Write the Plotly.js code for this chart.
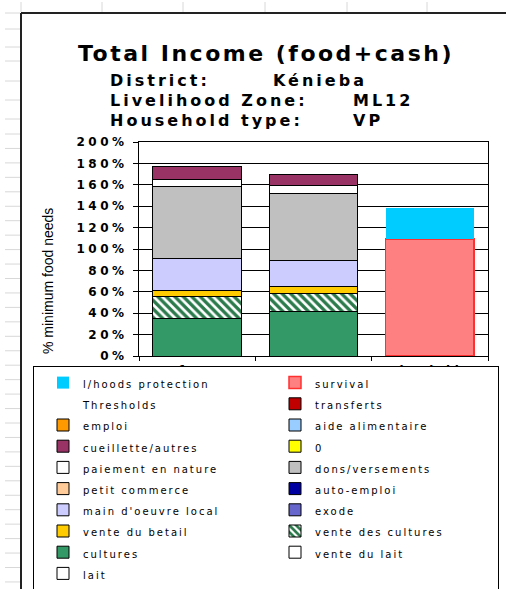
<!DOCTYPE html>
<html>
<head>
<meta charset="utf-8">
<script src="https://cdn.plot.ly/plotly-3.0.1.min.js"></script>
<style>
  html, body { margin: 0; padding: 0; background: #ffffff; }
  #chart { width: 506px; height: 589px; }
</style>
</head>
<body>
<div id="chart"></div>
<script>
// ---------- data (values in % of minimum food needs) ----------
const categories = ["reference", "current", "thresholds"];

const lait              = [0, 0, null];
const venteDuLait       = [0, 0, null];
const cultures          = [34.6, 41.4, null];
const venteDesCultures  = [20.8, 16.8, null];
const venteDuBetail     = [5.6, 6.6, null];
const exode             = [0, 0, null];
const mainDoeuvreLocal  = [30.3, 24.9, null];
const autoEmploi        = [0, 0, null];
const petitCommerce     = [0, 0, null];
const donsVersements    = [66.9, 62.3, null];
const paiementEnNature  = [7.2, 7.2, null];
const zeroSeries        = [0, 0, null];
const cueilletteAutres  = [11.5, 10.0, null];
const aideAlimentaire   = [0, 0, null];
const emploi            = [0, 0, null];
const transferts        = [0, 0, null];
const thresholdsBlank   = [null, null, null];
const survival          = [null, null, 109.3];
const lhoodsProtection  = [null, null, 29.3];

const yTickVals   = [0, 20, 40, 60, 80, 100, 120, 140, 160, 180, 200];
const yTickLabels = ["0%", "20%", "40%", "60%", "80%", "100%", "120%", "140%", "160%", "180%", "200%"];

const chartTitle = "Total Income (food+cash)";
const infoLabels = ["District:", "Livelihood Zone:", "Household type:"];
const infoValues = ["Kénieba", "ML12", "VP"];
const yTitle = "% minimum food needs";

// ---------- geometry helpers (pixel -> paper) ----------
const W = 506, H = 589;
const PL = 139, PR = 488, PT = 142, PB = 356;
const px = v => (v - PL) / (PR - PL);
const py = v => (PB - v) / (PB - PT);

const legendName = n => '<span style="font-size:10px;letter-spacing:2px">' + n + '</span>';

// ---------- series (stack order, bottom -> top) ----------
const series = [
  {name: "lait",                y: lait,             color: "#FFFFFF"},
  {name: "vente du lait",       y: venteDuLait,      color: "#FFFFFF"},
  {name: "cultures",            y: cultures,         color: "#339966"},
  {name: "vente des cultures",  y: venteDesCultures, color: "#FFFFFF", pattern: true},
  {name: "vente du betail",     y: venteDuBetail,    color: "#FFCC00"},
  {name: "exode",               y: exode,            color: "#6666CC"},
  {name: "main d'oeuvre local", y: mainDoeuvreLocal, color: "#CCCCFF"},
  {name: "auto-emploi",         y: autoEmploi,       color: "#0000A0"},
  {name: "petit commerce",      y: petitCommerce,    color: "#FFCC99"},
  {name: "dons/versements",     y: donsVersements,   color: "#C0C0C0"},
  {name: "paiement en nature",  y: paiementEnNature, color: "#FFFFFF"},
  {name: "0",                   y: zeroSeries,       color: "#FFFF00"},
  {name: "cueillette/autres",   y: cueilletteAutres, color: "#993366"},
  {name: "aide alimentaire",    y: aideAlimentaire,  color: "#99CCFF"},
  {name: "emploi",              y: emploi,           color: "#FF9900"},
  {name: "transferts",          y: transferts,       color: "#C00000"},
  {name: "Thresholds",          y: thresholdsBlank,  color: "rgba(0,0,0,0)", noline: true},
  {name: "survival",            y: survival,         color: "#FF8080", lineColor: "#FF3030", lineWidth: 1.5},
  {name: "l/hoods protection",  y: lhoodsProtection, color: "#00CCFF", noline: true}
];

const data = series.map(s => {
  const marker = {
    color: s.color,
    line: s.noline ? {width: 0, color: "rgba(0,0,0,0)"} :
          {width: s.lineWidth || 1, color: s.lineColor || "#000000"}
  };
  if (s.pattern) {
    marker.pattern = {shape: "\\", fgcolor: "#2B7A4B", bgcolor: "#FFFFFF",
                      size: 6, solidity: 0.55, fillmode: "replace"};
  }
  return {
    type: "bar",
    x: categories,
    y: s.y,
    name: legendName(s.name),
    marker: marker,
    hoverinfo: "skip"
  };
});

// ---------- decoration (spreadsheet cell lines + chart frame) ----------
const shapes = [];
function seg(x0, y0, x1, y1, color, width) {
  shapes.push({type: "line", xref: "paper", yref: "paper",
               x0: px(x0), y0: py(y0), x1: px(x1), y1: py(y1),
               line: {color: color, width: width}, layer: "above"});
}
const rowLines = [13, 29, 47, 61, 81, 100, 119];
for (let y = 134; y < H; y += 14.45) rowLines.push(y);
rowLines.forEach(y => seg(5, y, 20, y, "#D8D8D8", 1));
[21, 102, 183, 265, 347, 427].forEach(x => seg(x, 2, x, 12, "#D8D8D8", 1));
seg(21, 13, 21, H, "#222222", 2);
seg(21, 13, W, 13, "#222222", 2);

// ---------- annotations ----------
const annotations = [];
const infoRows = [81, 101, 121];
const infoValueX = [271, 351, 351];
infoLabels.forEach((t, i) => {
  annotations.push({xref: "paper", yref: "paper", x: px(108), y: py(infoRows[i]),
    xanchor: "left", yanchor: "middle", showarrow: false,
    text: '<span style="letter-spacing:3px">' + t + '</span>',
    font: {family: "DejaVu Sans", size: 16, weight: "bold", color: "#000000"}});
  annotations.push({xref: "paper", yref: "paper", x: px(infoValueX[i]), y: py(infoRows[i]),
    xanchor: "left", yanchor: "middle", showarrow: false,
    text: '<span style="letter-spacing:3px">' + infoValues[i] + '</span>',
    font: {family: "DejaVu Sans", size: 16, weight: "bold", color: "#000000"}});
});
annotations.push({xref: "paper", yref: "paper", x: px(48), y: py(281),
  xanchor: "center", yanchor: "middle", showarrow: false, textangle: -90,
  text: yTitle, font: {family: "Liberation Sans", size: 14, color: "#000000"}});

const layout = {
  width: W, height: H,
  margin: {l: PL, r: W - PR, t: PT, b: H - PB, autoexpand: false},
  paper_bgcolor: "#FFFFFF", plot_bgcolor: "#FFFFFF",
  barmode: "stack",
  bargap: 0.24,
  showlegend: true,
  title: {
    text: '<span style="letter-spacing:2.5px">' + chartTitle + '</span>',
    xref: "container", yref: "container",
    x: 266 / W, xanchor: "center",
    y: 1 - 53 / H, yanchor: "middle",
    font: {family: "DejaVu Sans", size: 22, weight: "bold", color: "#000000"}
  },
  xaxis: {
    type: "category",
    showline: true, linecolor: "#000000", linewidth: 1, mirror: true,
    ticks: "outside", tickson: "boundaries", ticklen: 4, tickcolor: "#000000",
    ticklabelstandoff: 4,
    showgrid: false, zeroline: false, fixedrange: true,
    tickfont: {family: "DejaVu Sans", size: 12, weight: "bold", color: "#000000"}
  },
  yaxis: {
    range: [0, 200],
    tickvals: yTickVals,
    ticktext: yTickLabels.map(t => '<span style="letter-spacing:3.5px">' + t + '</span>'),
    showline: true, linecolor: "#000000", linewidth: 1, mirror: true,
    ticks: "outside", ticklen: 5, tickcolor: "#000000",
    ticklabelstandoff: 3,
    showgrid: true, gridcolor: "#000000", gridwidth: 1,
    zeroline: false, fixedrange: true,
    tickfont: {family: "DejaVu Sans", size: 12, weight: "bold", color: "#000000"}
  },
  legend: {
    orientation: "h",
    x: px(33), xanchor: "left",
    y: py(366), yanchor: "top",
    bgcolor: "#FFFFFF", bordercolor: "#000000", borderwidth: 1,
    traceorder: "reversed",
    entrywidth: 178, entrywidthmode: "pixels",
    indentation: 9,
    font: {family: "DejaVu Sans", size: 14, color: "#000000"},
    itemclick: false, itemdoubleclick: false
  },
  shapes: shapes,
  annotations: annotations
};

Plotly.newPlot("chart", data, layout, {displayModeBar: false, staticPlot: true});
</script>
</body>
</html>
